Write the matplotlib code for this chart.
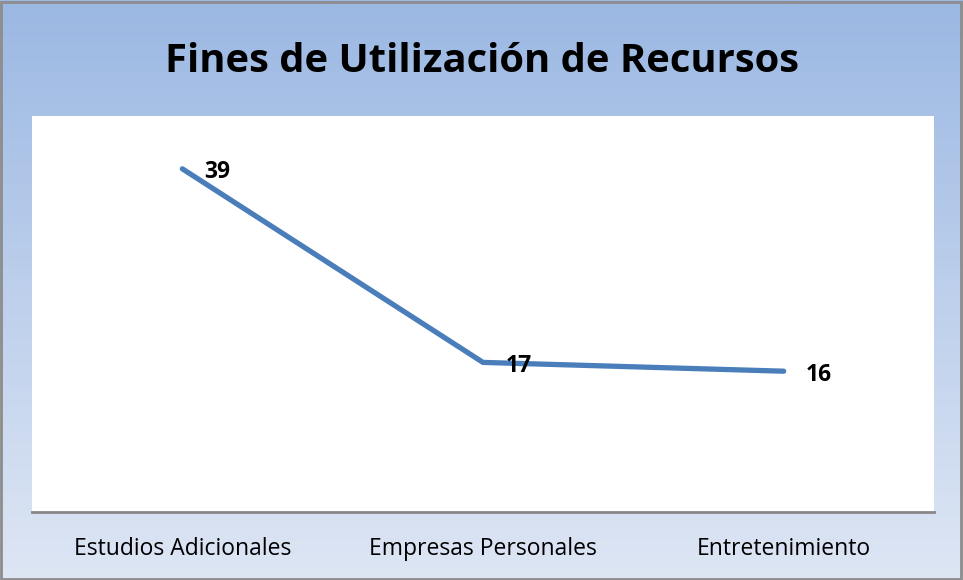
import numpy as np
import matplotlib
matplotlib.use("Agg")
from matplotlib import pyplot as plt
from matplotlib.patches import Rectangle

# data
categorias = ["Estudios Adicionales", "Empresas Personales", "Entretenimiento"]
valores = [39, 17, 16]
titulo = "Fines de Utilización de Recursos"

plt.rcParams['font.family'] = ['Open Sans', 'DejaVu Sans']

W, H = 963, 580
fig = plt.figure(figsize=(W / 100, H / 100), dpi=100)

# background gradient (top darker blue -> bottom pale)
bg = fig.add_axes([0, 0, 1, 1], zorder=0)
grad = np.linspace(0, 1, 256).reshape(-1, 1)
top = np.array([0x9B, 0xB8, 0xE3]) / 255
bot = np.array([0xDE, 0xE6, 0xF4]) / 255
img = top + (bot - top) * grad[:, :, None]
bg.imshow(img, aspect='auto', extent=[0, 1, 0, 1], origin='upper')
bg.add_patch(Rectangle((0.001, 0.002), 0.997, 0.995, fill=False,
                       edgecolor='#8c8c8c', linewidth=2, transform=bg.transAxes))
bg.set_xlim(0, 1)
bg.set_ylim(0, 1)
bg.axis('off')

# plot area
x0, x1 = 32 / W, 934 / W
y0, y1 = 1 - 512 / H, 1 - 116 / H
ax = fig.add_axes([x0, y0, x1 - x0, y1 - y0], zorder=1)
ax.set_facecolor('white')

x = np.arange(len(categorias))
ax.plot(x, valores, color='#4A7EBB', linewidth=3.8, solid_capstyle='round',
        solid_joinstyle='round')
for xi, v in zip(x, valores):
    ax.annotate(str(v), (xi, v), xytext=(16, -2.5), textcoords='offset points',
                ha='left', va='center', fontsize=16.5, fontweight='bold', color='black')

ax.set_xlim(-0.5, len(categorias) - 0.5)
ax.set_ylim(0, 45)
ax.set_yticks([])
ax.set_xticks(x)
ax.set_xticklabels(categorias, fontsize=16.5)
ax.tick_params(axis='x', length=0, pad=18)
for s in ['top', 'left', 'right']:
    ax.spines[s].set_visible(False)
ax.spines['bottom'].set_color('#878787')
ax.spines['bottom'].set_linewidth(2)

fig.text(0.5, 1 - 61 / H, titulo, ha='center', va='center',
         fontsize=28.8, fontweight='bold', color='black')

fig.savefig('out.png', dpi=100)
